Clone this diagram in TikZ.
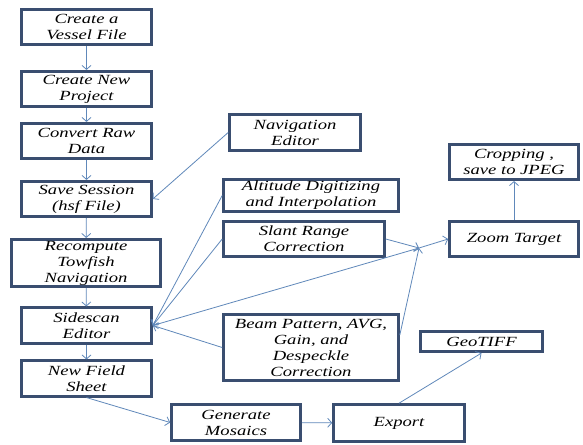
\documentclass[tikz,border=0pt]{standalone}
\usepackage{fontspec}
\usepackage{xcolor}
\usepackage{tikz}
\usetikzlibrary{positioning,arrows.meta,calc}
\newfontfamily\boxfont{Liberation Serif}[FakeStretch=1.33]
\definecolor{boxline}{RGB}{58,78,112}
\definecolor{arrline}{RGB}{96,136,186}

\begin{document}
\begin{tikzpicture}[
  x=1pt, y=-1pt,
  font=\boxfont\itshape\fontsize{14}{16}\selectfont, >={Straight Barb[length=4pt,width=9pt]},
  stepbox/.style={draw=boxline, line width=2.6pt, fill=white, align=center,
             inner sep=1pt, minimum width=130pt, minimum height=35.5pt},
  arr/.style={->, line width=0.8pt, color=arrline},
]
\useasboundingbox[fill=white] (0,0) rectangle (583,444);
\node[stepbox] (vessel) at (86.5,27)   {Create a\\Vessel File};
\node[stepbox] (proj)   at (86.5,89)   {Create New\\Project};
\node[stepbox] (conv)   at (86.5,141)  {Convert Raw\\Data};
\node[stepbox] (save)   at (86.5,199)  {Save Session\\(hsf File)};
\node[stepbox, minimum width=149pt, minimum height=47.5pt] (recomp) at (86,263) {Recompute\\Towfish\\Navigation};
\node[stepbox] (side)   at (86.5,325.5) {Sidescan\\Editor};
\node[stepbox] (field)  at (86.5,378.5) {New Field\\Sheet};
\node[stepbox, minimum width=129pt] (mosaic) at (236,422.5) {Generate\\Mosaics};
\node[stepbox, minimum width=131pt, minimum height=37pt] (export) at (399,423) {Export};
\node[stepbox, minimum width=122pt, minimum height=20.5pt] (geotiff) at (481.5,341.5) {GeoTIFF};
\node[stepbox, minimum width=175pt, minimum height=66pt] (beam) at (311,347.5) {Beam Pattern, AVG,\\Gain, and\\Despeckle\\Correction};
\node[stepbox, minimum width=131pt] (navedit) at (295,132.5) {Navigation\\Editor};
\node[stepbox, minimum width=175pt, minimum height=32pt] (alt) at (311,195.5) {Altitude Digitizing\\and Interpolation};
\node[stepbox, minimum width=161pt] (slant) at (304,239) {Slant Range\\Correction};
\node[stepbox, minimum width=129pt] (crop) at (514,162) {Cropping ,\\save to JPEG};
\node[stepbox, minimum width=129pt] (zoom) at (514,239) {Zoom Target};
\coordinate (jn) at (419,248);

\draw[arr] (vessel) -- (proj);
\draw[arr] (proj)   -- (conv);
\draw[arr] (conv)   -- (save);
\draw[arr] (save)   -- (recomp);
\draw[arr] (recomp) -- (side);
\draw[arr] (side)   -- (field);
\draw[arr] (navedit.west) -- (save.east);
\draw[arr] (alt.west)   -- (side.east);
\draw[arr] (slant.west) -- (side.east);
\draw[arr] (beam.west)  -- (side.east);
\draw[arr] (jn) -- (side.east);
\draw[arr] (jn) -- (zoom.west);
\draw[arr] (slant.east) -- (jn);
\draw[arr] (beam.8) -- (jn);
\draw[arr] (zoom) -- (crop);
\draw[arr] (field.south) -- (mosaic.west);
\draw[arr] (mosaic) -- (export);
\draw[arr] (export.north) -- (geotiff.south);
\end{tikzpicture}
\end{document}
